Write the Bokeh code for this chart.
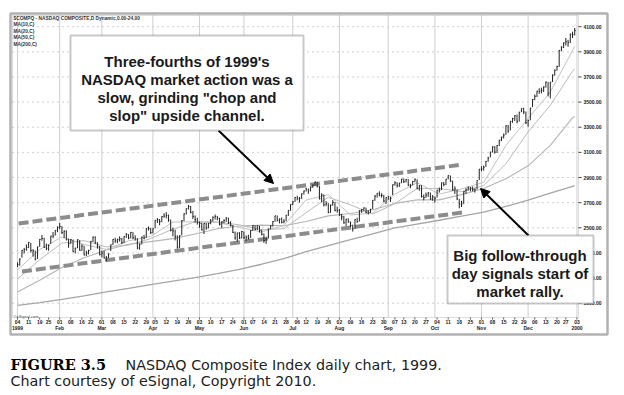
from bokeh.plotting import figure
from bokeh.models import Range1d, Label, BoxAnnotation, Arrow, NormalHead
from bokeh.embed import file_html
from bokeh.resources import INLINE
from bokeh.core.properties import value

# ---------------- data (NASDAQ Composite, daily 1999) ----------------
close = [
    # Jan
    2208, 2251, 2320, 2326, 2344, 2384, 2320, 2316, 2249, 2348, 2408, 2415, 2344, 2337, 2362, 2434, 2435, 2479, 2505,
    # Feb
    2510, 2463, 2472, 2405, 2373, 2405, 2310, 2338, 2406, 2321, 2354, 2285, 2298, 2319, 2392, 2425, 2381, 2354, 2288,
    # Mar
    2297, 2261, 2262, 2292, 2364, 2407, 2396, 2406, 2412, 2381, 2431, 2447, 2419, 2464, 2421, 2417, 2339, 2370, 2425, 2419, 2494, 2495, 2461,
    # Apr
    2493, 2560, 2563, 2548, 2590, 2593, 2598, 2562, 2480, 2475, 2431, 2345, 2437, 2557, 2610, 2652, 2670, 2623, 2590, 2564, 2542,
    # May
    2535, 2484, 2534, 2497, 2534, 2554, 2584, 2589, 2576, 2528, 2548, 2559, 2577, 2540, 2520, 2463, 2419, 2459, 2419, 2470,
    # Jun
    2421, 2424, 2418, 2478, 2517, 2487, 2515, 2478, 2448, 2398, 2413, 2491, 2516, 2550, 2595, 2560, 2569, 2543, 2552, 2600, 2638, 2686,
    # Jul
    2706, 2741, 2731, 2735, 2771, 2793, 2810, 2795, 2823, 2839, 2864, 2830, 2732, 2761, 2684, 2692, 2622, 2680, 2702, 2640, 2638,
    # Aug
    2603, 2587, 2540, 2568, 2547, 2518, 2491, 2565, 2549, 2637, 2645, 2658, 2622, 2622, 2648, 2719, 2752, 2774, 2759, 2758, 2713, 2739,
    # Sep
    2750, 2734, 2843, 2858, 2839, 2856, 2887, 2867, 2884, 2840, 2836, 2869, 2886, 2815, 2835, 2749, 2740, 2761, 2777, 2731, 2746,
    # Oct
    2736, 2800, 2800, 2857, 2843, 2887, 2915, 2872, 2801, 2809, 2731, 2689, 2689, 2788, 2801, 2816, 2815, 2803, 2802, 2875, 2966,
    # Nov
    2967, 2982, 3028, 3055, 3102, 3144, 3102, 3155, 3197, 3221, 3238, 3312, 3269, 3347, 3369, 3392, 3347, 3420, 3448, 3421, 3336,
    # Dec
    3354, 3452, 3520, 3546, 3586, 3587, 3594, 3620, 3658, 3571, 3658, 3715, 3753, 3783, 3911, 3937, 3970, 3979, 3972, 4041, 4036, 4069,
]

high = [
    2224, 2256, 2322, 2340, 2368, 2386, 2380, 2330, 2319, 2350, 2410, 2443, 2421, 2375, 2366, 2437, 2466, 2481, 2510,
    2538, 2513, 2480, 2480, 2414, 2410, 2406, 2341, 2408, 2402, 2369, 2357, 2318, 2326, 2394, 2431, 2433, 2385, 2356,
    2318, 2318, 2276, 2296, 2366, 2410, 2420, 2414, 2432, 2420, 2433, 2458, 2449, 2466, 2466, 2440, 2417, 2375, 2430, 2444, 2496, 2511, 2500,
    2495, 2562, 2578, 2570, 2592, 2616, 2625, 2605, 2565, 2500, 2485, 2440, 2440, 2560, 2616, 2655, 2682, 2674, 2634, 2598, 2580,
    2550, 2540, 2536, 2540, 2540, 2570, 2590, 2606, 2595, 2580, 2552, 2568, 2585, 2580, 2552, 2522, 2470, 2462, 2465, 2475,
    2470, 2440, 2445, 2480, 2520, 2520, 2520, 2515, 2485, 2455, 2420, 2493, 2520, 2552, 2596, 2598, 2575, 2582, 2568, 2602, 2640, 2688,
    2712, 2744, 2755, 2745, 2773, 2796, 2818, 2812, 2826, 2845, 2867, 2866, 2832, 2775, 2765, 2712, 2695, 2685, 2720, 2705, 2668,
    2650, 2610, 2595, 2572, 2575, 2550, 2525, 2567, 2580, 2639, 2650, 2662, 2660, 2640, 2650, 2720, 2760, 2776, 2790, 2775, 2762, 2742,
    2752, 2748, 2845, 2870, 2862, 2858, 2890, 2892, 2888, 2887, 2850, 2872, 2892, 2885, 2840, 2838, 2765, 2780, 2785, 2780, 2760,
    2748, 2802, 2820, 2860, 2865, 2888, 2918, 2915, 2875, 2830, 2805, 2730, 2715, 2790, 2815, 2830, 2825, 2828, 2815, 2878, 2968,
    2990, 2995, 3032, 3065, 3105, 3148, 3150, 3158, 3200, 3225, 3250, 3315, 3318, 3350, 3375, 3395, 3400, 3422, 3450, 3455, 3425,
    3360, 3455, 3525, 3560, 3590, 3610, 3615, 3625, 3665, 3660, 3660, 3720, 3760, 3790, 3915, 3945, 3975, 4010, 3995, 4045, 4060, 4090,
]

low = [
    2187, 2198, 2262, 2295, 2318, 2338, 2302, 2271, 2241, 2252, 2349, 2398, 2340, 2322, 2317, 2372, 2418, 2438, 2465,
    2490, 2450, 2418, 2400, 2341, 2372, 2308, 2296, 2338, 2317, 2316, 2280, 2276, 2288, 2322, 2387, 2371, 2334, 2280,
    2265, 2255, 2235, 2260, 2315, 2363, 2380, 2377, 2390, 2370, 2378, 2420, 2409, 2416, 2410, 2398, 2330, 2325, 2368, 2408, 2420, 2478, 2450,
    2455, 2495, 2538, 2520, 2545, 2580, 2575, 2548, 2471, 2432, 2400, 2334, 2340, 2440, 2553, 2605, 2645, 2615, 2570, 2540, 2525,
    2500, 2478, 2450, 2485, 2495, 2528, 2550, 2566, 2560, 2518, 2500, 2535, 2548, 2530, 2512, 2458, 2405, 2390, 2410, 2415,
    2410, 2395, 2405, 2420, 2475, 2480, 2482, 2462, 2440, 2380, 2372, 2415, 2488, 2510, 2548, 2550, 2535, 2535, 2535, 2552, 2595, 2635,
    2680, 2705, 2718, 2700, 2730, 2765, 2788, 2770, 2790, 2818, 2835, 2820, 2725, 2705, 2670, 2672, 2615, 2620, 2675, 2630, 2620,
    2595, 2560, 2532, 2515, 2540, 2505, 2470, 2490, 2540, 2550, 2620, 2635, 2615, 2605, 2618, 2650, 2715, 2740, 2750, 2740, 2705, 2690,
    2722, 2705, 2760, 2835, 2820, 2825, 2855, 2856, 2860, 2832, 2815, 2838, 2862, 2805, 2795, 2740, 2718, 2738, 2745, 2722, 2715,
    2700, 2740, 2780, 2800, 2830, 2840, 2885, 2865, 2795, 2770, 2720, 2655, 2665, 2690, 2770, 2795, 2790, 2790, 2780, 2805, 2880,
    2950, 2955, 2985, 3025, 3060, 3100, 3090, 3095, 3150, 3190, 3210, 3240, 3255, 3275, 3335, 3350, 3330, 3345, 3420, 3405, 3325,
    3305, 3355, 3460, 3515, 3540, 3565, 3570, 3580, 3615, 3545, 3530, 3660, 3710, 3750, 3780, 3905, 3930, 3950, 3940, 3970, 4010, 4030,
]

# moving averages, read at every 10th trading day
ma_idx = [0, 10, 20, 30, 40, 50, 60, 70, 80, 90, 100, 110, 120, 130, 140, 150, 160, 170, 180, 190, 200, 210, 220, 230, 240, 250, 251]
ma10 = [2165, 2327, 2428, 2367, 2328, 2396, 2431, 2546, 2548, 2543, 2503, 2466, 2519, 2721, 2764, 2602, 2616, 2768, 2858, 2768, 2809, 2862, 3155, 3370, 3579, 3910, 3945]
ma20 = [2093, 2246, 2378, 2398, 2348, 2362, 2414, 2489, 2547, 2546, 2523, 2485, 2493, 2620, 2743, 2683, 2609, 2692, 2813, 2813, 2789, 2836, 3009, 3263, 3475, 3745, 3765]
ma50 = [1990, 2082, 2184, 2261, 2323, 2369, 2390, 2414, 2450, 2493, 2514, 2521, 2516, 2550, 2595, 2614, 2644, 2694, 2722, 2722, 2764, 2813, 2890, 2993, 3155, 3375, 3385]
ma200 = [1882, 1905, 1930, 1958, 1990, 2018, 2047, 2075, 2103, 2135, 2170, 2210, 2255, 2310, 2358, 2405, 2452, 2500, 2530, 2560, 2592, 2625, 2670, 2720, 2775, 2830, 2836]

# channel trend lines (trading-day index, price)
upper_x = [0.5, 200.5]
upper_y = [2534, 3003]
lower_x = [2, 200.5]
lower_y = [2152, 2622]

# axis ticks / labels
week_ticks = [0, 5, 10, 14, 19, 24, 29, 33, 38, 43, 48, 53, 58, 62, 67, 72, 77, 82, 87, 92, 97,
              102, 106, 111, 116, 121, 126, 130, 135, 140, 145, 150, 155, 160, 165, 170, 174, 179, 184,
              189, 194, 199, 204, 209, 214, 219, 224, 228, 233, 238, 243, 247, 252]
week_labels = ["04", "11", "19", "25", "01", "08", "16", "22", "01", "08", "15", "22", "29", "05", "12", "19", "26",
               "03", "10", "17", "24", "01", "07", "14", "21", "28", "06", "12", "19", "26", "02", "09", "16", "23",
               "30", "07", "13", "20", "27", "04", "11", "18", "25", "01", "08", "15", "22", "29", "06", "13", "20",
               "27", "03"]
month_ticks = [0, 19, 38, 61, 82, 102, 124, 145, 167, 188, 209, 230, 252]
month_labels = ["1999", "Feb", "Mar", "Apr", "May", "Jun", "Jul", "Aug", "Sep", "Oct", "Nov", "Dec", "2000"]
price_ticks = [1900, 2100, 2300, 2500, 2700, 2900, 3100, 3300, 3500, 3700, 3900, 4100]

legend_lines = ["$COMPQ - NASDAQ COMPOSITE,D Dynamic,0.00-24.00", "MA(10,C)", "MA(20,C)", "MA(50,C)", "MA(200,C)"]
note1 = ["Three-fourths of 1999's", "NASDAQ market action was a", "slow, grinding \"chop and", "slop\" upside channel."]
note2 = ["Big follow-through", "day signals start of", "market rally."]

# ---------------- layout helpers (pixel positions -> scale units) ----------------
W, H = 612, 390
X0_PX, X_PER_DAY = 17.0, 2.22          # page x of day 0, px per trading day
Y_REF_PX, Y_REF, Y_PER_PT = 265.0, 2200.0, 0.1257


def day_at(px):
    return (px - X0_PX) / X_PER_DAY


def price_at(py):
    return Y_REF + (Y_REF_PX - py) / Y_PER_PT


def sy(py):          # screen y (from bottom) for annotations
    return H - py


X_LO, X_HI = day_at(12), day_at(578)       # price panel
Y_LO, Y_HI = price_at(317), price_at(15)

SANS = "Liberation Sans"
days = list(range(len(close)))

p = figure(width=W, height=H, x_range=Range1d(day_at(0), day_at(W)), y_range=Range1d(price_at(H), price_at(0)),
           output_backend="svg", toolbar_location=None, x_axis_location=None, y_axis_location=None,
           min_border=0)
p.background_fill_color = "white"
p.border_fill_color = "white"
p.outline_line_color = None
p.grid.visible = False

# grid lines of the price panel
p.segment(x0=[X_LO] * len(price_ticks), x1=[X_HI] * len(price_ticks), y0=price_ticks, y1=price_ticks,
          line_color="#a0a0a0", line_width=1, line_dash="1 4")
p.segment(x0=month_ticks, x1=month_ticks, y0=[Y_LO] * len(month_ticks), y1=[Y_HI] * len(month_ticks),
          line_color="#cfcfcf", line_width=1)

# panel edges (axis lines)
p.add_layout(BoxAnnotation(left=12, right=578, top=sy(15), bottom=sy(317), left_units="screen",
                           right_units="screen", top_units="screen", bottom_units="screen",
                           fill_alpha=0, line_color="#8a8a8a", line_width=1))

# right price axis: ticks + labels
p.segment(x0=[X_HI] * len(price_ticks), x1=[day_at(581)] * len(price_ticks), y0=price_ticks, y1=price_ticks,
          line_color="#444444", line_width=1)
p.text(x=[day_at(583)] * len(price_ticks), y=price_ticks, text=[f"{t:.2f}" for t in price_ticks],
       text_font=value(SANS), text_font_size="5px", text_font_style="bold", text_color="#222222",
       text_baseline="middle", text_align="left")

# bottom date axis: weekly ticks + labels, month labels
p.segment(x0=week_ticks, x1=week_ticks, y0=[Y_LO] * len(week_ticks), y1=[price_at(319)] * len(week_ticks),
          line_color="#555555", line_width=1)
p.text(x=week_ticks, y=[price_at(321)] * len(week_ticks), text=week_labels,
       text_font=value(SANS), text_font_size="5px", text_font_style="bold", text_color="#222222",
       text_baseline="middle", text_align="center")
p.text(x=month_ticks, y=[price_at(327.5)] * len(month_ticks), text=month_labels,
       text_font=value(SANS), text_font_size="5px", text_font_style="bold", text_color="#222222",
       text_baseline="middle", text_align="center")

# moving averages
p.line(ma_idx, ma200, line_color="#a5a5a5", line_width=1.3)
p.line(ma_idx, ma50, line_color="#b5b5b5", line_width=1.1)
p.line(ma_idx, ma20, line_color="#bababa", line_width=1)
p.line(ma_idx, ma10, line_color="#c2c2c2", line_width=1)

# channel lines
p.line(upper_x, upper_y, line_color="#8c8c8c", line_width=4, line_dash="10 4")
p.line(lower_x, lower_y, line_color="#8c8c8c", line_width=4, line_dash="10 4")

# daily bars
p.segment(x0=days, y0=low, x1=days, y1=high, line_color="#222222", line_width=1)
p.segment(x0=days, y0=close, x1=[d + 0.45 for d in days], y1=close, line_color="#222222", line_width=1)

# legend text (top-left)
for i, t in enumerate(legend_lines):
    p.add_layout(Label(x=13, y=sy(17.5 + 6.6 * i), x_units="screen", y_units="screen", text=t,
                       text_font=SANS, text_font_size="4.8px", text_font_style="bold",
                       text_color="#333333", text_baseline="alphabetic"))
p.add_layout(Label(x=13, y=sy(316), x_units="screen", y_units="screen", text="\u00a9eSignal.com",
                   text_font=SANS, text_font_size="4px", text_color="#555555",
                   text_baseline="alphabetic"))

# annotation arrows and boxes
head = dict(size=9, fill_color="black", line_color="black")
p.add_layout(Arrow(x_start=218, y_start=sy(130), x_end=273, y_end=sy(183), start_units="screen",
                   end_units="screen", line_width=2, line_color="black", end=NormalHead(**head)))
p.add_layout(Arrow(x_start=528, y_start=sy(235), x_end=480, y_end=sy(188), start_units="screen",
                   end_units="screen", line_width=2, line_color="black", end=NormalHead(**head)))

p.add_layout(BoxAnnotation(left=70, right=303, top=sy(35), bottom=sy(130), left_units="screen",
                           right_units="screen", top_units="screen", bottom_units="screen",
                           fill_color="white", fill_alpha=1, line_color="#4a4a4a", line_width=2))
for i, t in enumerate(note1):
    p.add_layout(Label(x=186.5, y=sy(61 + 18 * i), x_units="screen", y_units="screen", text=t,
                       text_font=SANS, text_font_size="15px", text_font_style="bold",
                       text_color="#1a1a1a", text_align="center", text_baseline="alphabetic"))

p.add_layout(BoxAnnotation(left=447, right=593, top=sy(235), bottom=sy(303), left_units="screen",
                           right_units="screen", top_units="screen", bottom_units="screen",
                           fill_color="white", fill_alpha=1, line_color="#4a4a4a", line_width=2))
for i, t in enumerate(note2):
    p.add_layout(Label(x=519.5, y=sy(255 + 18 * i), x_units="screen", y_units="screen", text=t,
                       text_font=SANS, text_font_size="15px", text_font_style="bold",
                       text_color="#1a1a1a", text_align="center", text_baseline="alphabetic"))

# outer chart frame
p.add_layout(BoxAnnotation(left=10, right=607, top=sy(13), bottom=sy(334), left_units="screen",
                           right_units="screen", top_units="screen", bottom_units="screen",
                           fill_alpha=0, line_color="black", line_width=2.5))

# caption
p.add_layout(Label(x=10, y=sy(364), x_units="screen", y_units="screen", text="FIGURE 3.5",
                   text_font="DejaVu Serif", text_font_size="14.5px", text_font_style="bold",
                   text_color="black", text_baseline="alphabetic"))
p.add_layout(Label(x=125, y=sy(364), x_units="screen", y_units="screen",
                   text="NASDAQ Composite Index daily chart, 1999.",
                   text_font="DejaVu Sans", text_font_size="14.3px",
                   text_color="#222222", text_baseline="alphabetic"))
p.add_layout(Label(x=10, y=sy(380), x_units="screen", y_units="screen",
                   text="Chart courtesy of eSignal, Copyright 2010.",
                   text_font="DejaVu Sans", text_font_size="14.3px",
                   text_color="#222222", text_baseline="alphabetic"))

open("out.html", "w").write(file_html(p, INLINE))
